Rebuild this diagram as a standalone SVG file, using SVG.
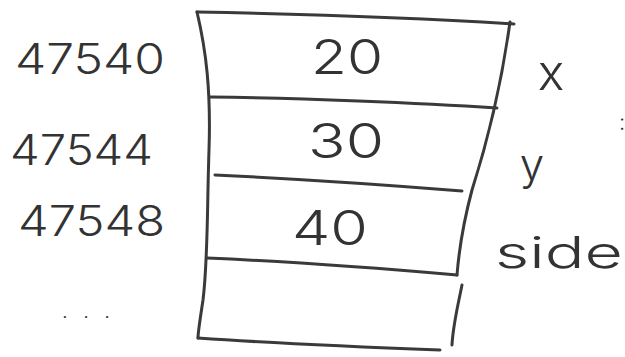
<svg xmlns="http://www.w3.org/2000/svg" width="625" height="357" viewBox="0 0 625 357">
<style>
.ln{fill:none;stroke:#3a3a3a;stroke-width:3;stroke-linecap:round;stroke-linejoin:round}
.hw{font-family:Inter,"Liberation Sans","DejaVu Sans",sans-serif;font-weight:300;fill:#333333}
.val{font-size:48px}
.addr{font-size:42px}
.var{font-size:44px}
</style>
<rect width="625" height="357" fill="#ffffff"/>
<g id="memory-frame">
<path class="ln" d="M197,12 C300,14 420,18 514,24"/>
<path class="ln" d="M197,12 C206,50 211,90 209,150 C207,210 208,260 203,300 C200,320 198,332 198,338"/>
<path class="ln" d="M510,22 C502,80 488,140 472,190 C464,220 459,250 457,275"/>
<path class="ln" d="M198,338 C270,343 360,347 440,350"/>
</g>
<g id="cell-20">
<text class="hw val" x="347" y="74" text-anchor="middle" textLength="72" lengthAdjust="spacingAndGlyphs">20</text>
</g>
<g id="cell-30">
<path class="ln" d="M210,97 C300,98 420,103 497,108"/>
<text class="hw val" x="346" y="158" text-anchor="middle" textLength="76" lengthAdjust="spacingAndGlyphs">30</text>
</g>
<g id="cell-40">
<path class="ln" d="M215,175 C300,179 400,186 462,191"/>
<text class="hw val" x="330" y="245" text-anchor="middle" textLength="76" lengthAdjust="spacingAndGlyphs">40</text>
</g>
<g id="cell-empty">
<path class="ln" d="M207,258 C300,262 400,270 457,275"/>
<path class="ln" d="M462,285 C458,305 453,325 452,345"/>
</g>
<g id="addresses">
<text class="hw addr" x="15" y="74" textLength="150" lengthAdjust="spacingAndGlyphs">47540</text>
<text class="hw addr" x="10" y="165" textLength="143" lengthAdjust="spacingAndGlyphs">47544</text>
<text class="hw addr" x="18" y="236" textLength="147" lengthAdjust="spacingAndGlyphs">47548</text>
<text class="hw" x="62" y="318" font-size="20" textLength="48" lengthAdjust="spacing">. . .</text>
</g>
<g id="variables">
<text class="hw" x="551" y="90" font-size="50" text-anchor="middle">x</text>
<text class="hw" x="619" y="130" font-size="22">:</text>
<text class="hw var" x="532" y="180" text-anchor="middle">y</text>
<text class="hw var" x="495" y="268" textLength="128" lengthAdjust="spacingAndGlyphs">side</text>
</g>
</svg>
